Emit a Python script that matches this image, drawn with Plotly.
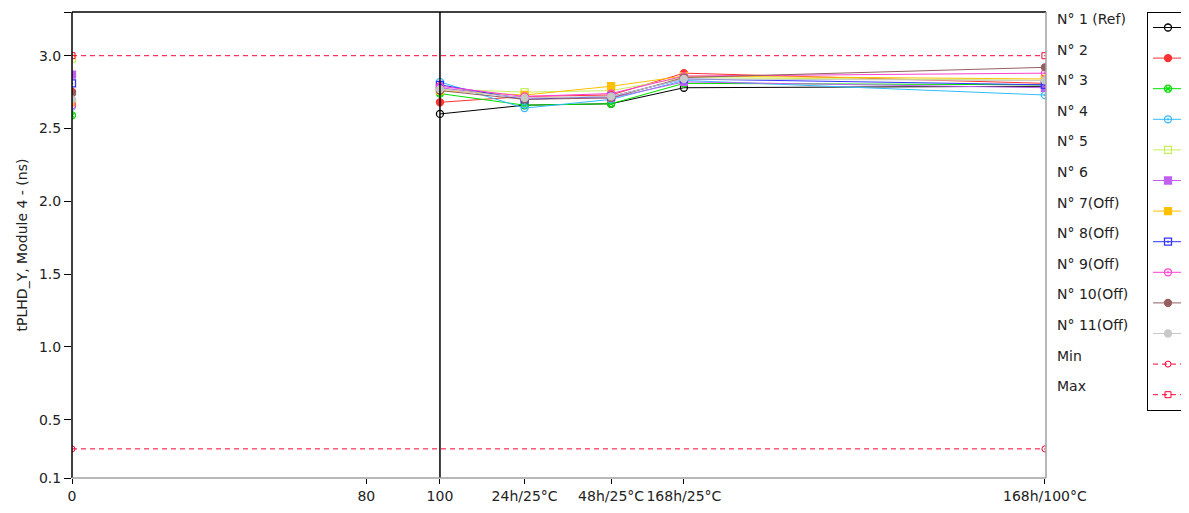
import plotly.graph_objects as go

# ---- data ----
stage_labels = ["0", "80", "100", "24h/25°C", "48h/25°C", "168h/25°C", "168h/100°C"]
stage_ticks = [0, 80, 100, 123, 146.5, 166.3, 264.4]
stage_x = [100, 123, 146.5, 166.3, 264.4]   # positions of the measurement stages
init_x = 0

series_names = ["N° 1 (Ref)", "N° 2", "N° 3", "N° 4", "N° 5", "N° 6",
                "N° 7(Off)", "N° 8(Off)", "N° 9(Off)", "N° 10(Off)", "N° 11(Off)"]
init_vals = [2.75, 2.75, 2.59, 2.65, 2.98, 2.87, 2.68, 2.81, 2.66, 2.74, 2.70]
n1 = [2.60, 2.66, 2.67, 2.78, 2.79]
n2 = [2.68, 2.72, 2.73, 2.88, 2.81]
n3 = [2.74, 2.66, 2.67, 2.81, 2.80]
n4 = [2.82, 2.64, 2.70, 2.83, 2.73]
n5 = [2.77, 2.75, 2.76, 2.85, 2.83]
n6 = [2.78, 2.71, 2.71, 2.82, 2.78]
n7 = [2.76, 2.73, 2.79, 2.86, 2.84]
n8 = [2.80, 2.70, 2.72, 2.84, 2.80]
n9 = [2.79, 2.72, 2.74, 2.86, 2.88]
n10 = [2.76, 2.70, 2.71, 2.85, 2.92]
n11 = [2.77, 2.71, 2.72, 2.84, 2.83]
stage_vals = [n1, n2, n3, n4, n5, n6, n7, n8, n9, n10, n11]

limit_x = [0, 264.4]
min_vals = [0.3, 0.3]
max_vals = [3.0, 3.0]

y_ticks = [0.1, 0.5, 1.0, 1.5, 2.0, 2.5, 3.0, 3.3]
y_tick_text = ["0.1", "0.5", "1.0", "1.5", "2.0", "2.5", "3.0", "3.3"]

# ---- styles ----
colors = ["#000000", "#FF3333", "#00E000", "#33BBFF", "#C8F060", "#C060F0",
          "#FFC000", "#3333FF", "#FF40D0", "#946060", "#C8C8C8"]
symbols = ["circle-open", "circle", "circle-x-open", "circle-open-dot", "square-open",
           "square", "square", "square-open-dot", "circle-open-dot", "circle", "circle"]
limit_color = "#FF0033"
FONT = "DejaVu Sans"
TXT = "#222222"

# page has an 8px body margin -> figure is drawn 8px right/down
OFF = 8
W, H = 1189 - OFF, 513 - OFF
L, T = 72 - OFF, 12 - OFF
plot_w, plot_h = 974, 466
R = W - L - plot_w
B = H - T - plot_h


def px_to_paper_x(px):
    return (px - OFF - L) / plot_w


def px_to_paper_y(py):
    return (T + plot_h - (py - OFF)) / plot_h


fig = go.Figure()

for i, (name, iv, sv, c, s) in enumerate(zip(series_names, init_vals, stage_vals, colors, symbols)):
    fig.add_trace(go.Scatter(
        x=[init_x, None] + stage_x, y=[iv, None] + sv,
        mode="lines+markers", name="", legendgroup=f"g{i}",
        line=dict(color=c, width=1),
        marker=dict(symbol=s, size=7, color=c, line=dict(color=c, width=1.3)),
        hovertemplate=name + ": %{y}<extra></extra>",
    ))

fig.add_trace(go.Scatter(x=limit_x, y=min_vals, mode="lines+markers", name="", legendgroup="gmin",
                         line=dict(color=limit_color, width=1, dash="5px,4px"),
                         marker=dict(symbol="circle-open", size=6, color=limit_color),
                         hovertemplate="Min: %{y}<extra></extra>"))
fig.add_trace(go.Scatter(x=limit_x, y=max_vals, mode="lines+markers", name="", legendgroup="gmax",
                         line=dict(color=limit_color, width=1, dash="5px,4px"),
                         marker=dict(symbol="square-open", size=6, color=limit_color),
                         hovertemplate="Max: %{y}<extra></extra>"))

# legend labels as text to the left of the legend box
label_names = series_names + ["Min", "Max"]
annotations = []
for i, nm in enumerate(label_names):
    py = 19 + 30.6 * i
    annotations.append(dict(
        xref="paper", yref="paper",
        x=px_to_paper_x(1055), y=px_to_paper_y(py),
        text=nm, showarrow=False, xanchor="left", yanchor="middle",
        font=dict(family=FONT, size=14, color=TXT)))

shapes = [
    # cursor line at 100
    dict(type="line", xref="x", yref="paper", x0=100, x1=100, y0=0, y1=1,
         line=dict(color="black", width=1.5)),
    # frame: left & top black, right & bottom grey
    dict(type="line", xref="paper", yref="paper", x0=0, x1=0, y0=0, y1=1,
         line=dict(color="black", width=1.5)),
    dict(type="line", xref="paper", yref="paper", x0=0, x1=1, y0=1, y1=1,
         line=dict(color="black", width=1.5)),
    dict(type="line", xref="paper", yref="paper", x0=1, x1=1, y0=0, y1=1,
         line=dict(color="#A0A0A0", width=1.5)),
    dict(type="line", xref="paper", yref="paper", x0=0, x1=1, y0=0, y1=0,
         line=dict(color="#A0A0A0", width=1.5)),
]

fig.update_layout(
    width=W, height=H,
    margin=dict(l=L, r=R, t=T, b=B, autoexpand=False),
    paper_bgcolor="white", plot_bgcolor="white",
    font=dict(family=FONT, size=14, color=TXT),
    showlegend=True,
    legend=dict(
        x=px_to_paper_x(1147), xanchor="left",
        y=1.0, yanchor="top",
        bgcolor="white", bordercolor="black", borderwidth=1,
        font=dict(size=10), itemwidth=30, tracegroupgap=11.6,
        traceorder="grouped",
        itemclick=False, itemdoubleclick=False,
    ),
    annotations=annotations,
    shapes=shapes,
    xaxis=dict(range=[0, 264.7], tickmode="array", tickvals=stage_ticks, ticktext=stage_labels,
               showgrid=False, zeroline=False, showline=False,
               ticks="outside", ticklen=5, tickcolor="black", tickangle=0,
               tickfont=dict(family=FONT, size=14, color=TXT)),
    yaxis=dict(range=[0.1, 3.3], tickmode="array", tickvals=y_ticks, ticktext=y_tick_text,
               showgrid=False, zeroline=False, showline=False,
               ticks="outside", ticklen=7, tickcolor="black",
               tickfont=dict(family=FONT, size=14, color=TXT),
               title=dict(text="tPLHD_Y, Module 4 - (ns)", standoff=8,
                          font=dict(family=FONT, size=14, color=TXT))),
)

fig.write_html("out.html")
